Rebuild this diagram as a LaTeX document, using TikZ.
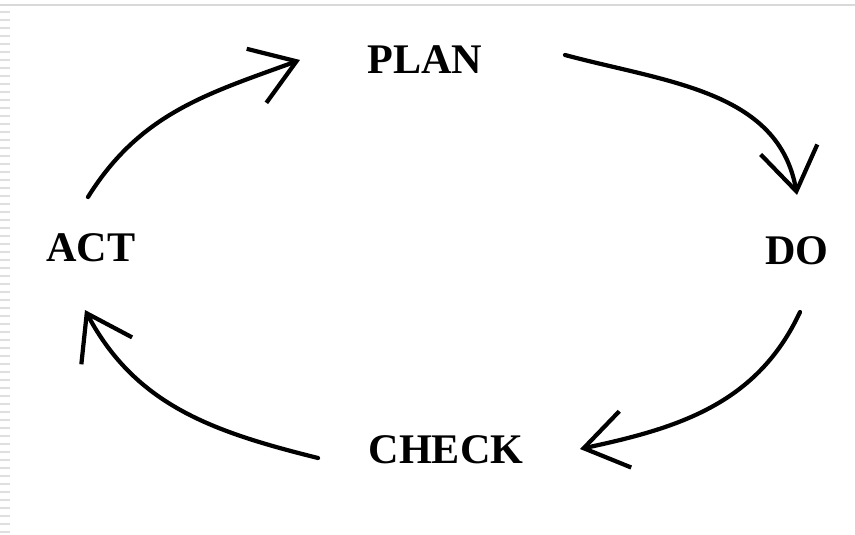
\documentclass[tikz,border=0pt]{standalone}
\usepackage{fontspec}
\setmainfont{Liberation Serif}
\usetikzlibrary{arrows.meta,calc}

\begin{document}
\begin{tikzpicture}[
    x=0.02cm, y=-0.02cm,
    stage/.style={font=\fontsize{24}{28}\selectfont\bfseries, inner sep=1pt},
    cyc/.style={-{Straight Barb[length=0.85cm, width=1.15cm, line width=2.4pt]}, line width=2.4pt, line cap=round},
    frame/.style={draw=gray!30, line width=0.06cm}
]
\useasboundingbox (0,0) rectangle (855,534);
% page edge of the scan
\draw[frame] (0,5) -- (855,5);
\draw[draw=gray!25, line width=0.2cm, dash pattern=on 0.05cm off 0.11cm] (5,11) -- (5,534);

\node[stage] (plan) at (425,60) {PLAN};
\node[stage] (do) at (797,251) {DO};
\node[stage] (check) at (446,450) {CHECK};
\node[stage] (act) at (91,248) {ACT};

\coordinate (actout) at (88,197);
\coordinate (planin) at (300,60);
\coordinate (planout) at (565,55);
\coordinate (doin) at (797,195);
\coordinate (doout) at (800,312);
\coordinate (checkin) at (580,449);
\coordinate (checkout) at (318,458);
\coordinate (actin) at (85,310);

\draw[cyc] (actout) to[out=58, in=-160] (planin);
\draw[cyc] (planout) to[out=-15, in=100] (doin);
\draw[cyc] (doout) to[out=-115, in=12] (checkin);
\draw[cyc] (checkout) to[out=166, in=-62] (actin);
\end{tikzpicture}
\end{document}
